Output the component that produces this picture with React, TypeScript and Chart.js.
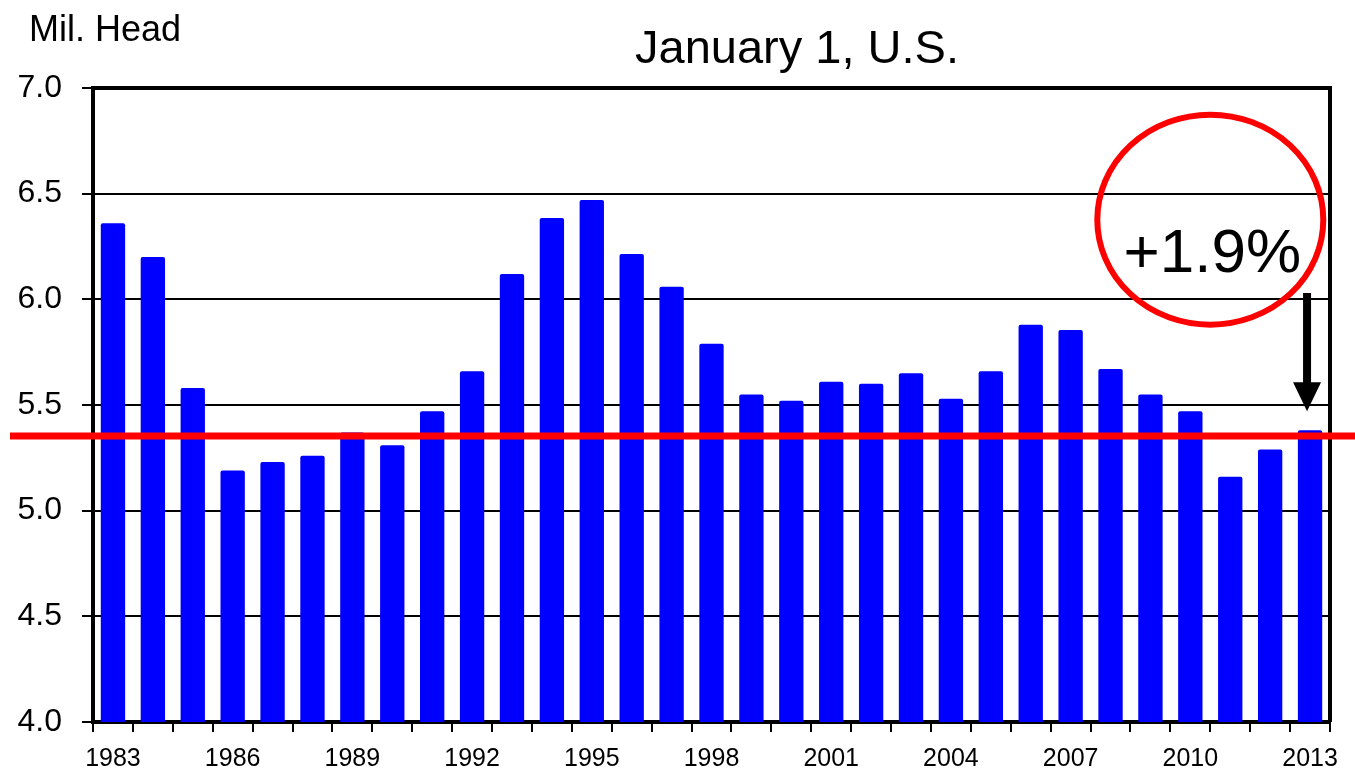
import React, { useEffect, useRef } from "react";
import { Chart, registerables } from "chart.js";

Chart.register(...registerables);

const years: string[] = [
  "1983", "1984", "1985", "1986", "1987", "1988", "1989", "1990", "1991", "1992",
  "1993", "1994", "1995", "1996", "1997", "1998", "1999", "2000", "2001", "2002",
  "2003", "2004", "2005", "2006", "2007", "2008", "2009", "2010", "2011", "2012", "2013",
];
const headMillions: number[] = [
  6.36, 6.20, 5.58, 5.19, 5.23, 5.26, 5.37, 5.31, 5.47, 5.66,
  6.12, 6.385, 6.47, 6.215, 6.06, 5.79, 5.55, 5.52, 5.61, 5.60,
  5.65, 5.53, 5.66, 5.88, 5.855, 5.67, 5.55, 5.47, 5.16, 5.29, 5.38,
];
const referenceLevel = 5.353;
const changeLabel = "+1.9%";
const titleText = "January 1, U.S.";
const unitText = "Mil. Head";

const FONT = "'Liberation Sans', Arial, sans-serif";

const overlayPlugin = {
  id: "overlay",
  afterDraw(chart: any) {
    const ctx = chart.ctx;
    const { chartArea } = chart;
    const xs = chart.scales.x;
    const ys = chart.scales.y;
    ctx.save();
    // frame (top & right)
    ctx.strokeStyle = "#000";
    ctx.lineWidth = 4;
    ctx.beginPath();
    ctx.moveTo(chartArea.left, chartArea.top);
    ctx.lineTo(chartArea.right, chartArea.top);
    ctx.lineTo(chartArea.right, chartArea.bottom);
    ctx.stroke();

    // red reference line
    const ry = ys.getPixelForValue(referenceLevel);
    ctx.strokeStyle = "#FF0000";
    ctx.lineWidth = 7;
    ctx.beginPath();
    ctx.moveTo(10, ry);
    ctx.lineTo(chart.width, ry);
    ctx.stroke();

    // red ellipse
    const cx = xs.getPixelForValue(27.5);
    const cy = ys.getPixelForValue(6.377);
    ctx.lineWidth = 6;
    ctx.beginPath();
    ctx.ellipse(cx, cy, 113, 105, 0, 0, Math.PI * 2);
    ctx.stroke();

    // text
    ctx.fillStyle = "#000";
    ctx.font = `62px ${FONT}`;
    ctx.textAlign = "center";
    ctx.textBaseline = "alphabetic";
    ctx.fillText(changeLabel, cx + 2, ys.getPixelForValue(6.13));

    // arrow
    const ax = xs.getPixelForValue(30) - 3;
    const aTop = ys.getPixelForValue(6.03);
    const aTip = ys.getPixelForValue(5.47);
    const headH = 29;
    ctx.strokeStyle = "#000";
    ctx.lineWidth = 8;
    ctx.beginPath();
    ctx.moveTo(ax, aTop);
    ctx.lineTo(ax, aTip - headH + 2);
    ctx.stroke();
    ctx.beginPath();
    ctx.moveTo(ax - 14, aTip - headH);
    ctx.lineTo(ax + 14, aTip - headH);
    ctx.lineTo(ax, aTip);
    ctx.closePath();
    ctx.fill();

    // titles
    ctx.font = `47px ${FONT}`;
    ctx.textAlign = "center";
    ctx.fillText(titleText, 797, 63);
    ctx.font = `36px ${FONT}`;
    ctx.textAlign = "left";
    ctx.fillText(unitText, 29, 41);
    ctx.restore();
  },
};

export default function App() {
  const ref = useRef<HTMLCanvasElement | null>(null);
  useEffect(() => {
    document.body.style.margin = "0";
    const canvas = ref.current;
    if (!canvas) return;
    const chart = new Chart(canvas, {
      type: "bar",
      data: {
        labels: years,
        datasets: [
          {
            data: headMillions,
            backgroundColor: "#0000FF",
            borderWidth: 0,
            borderRadius: 2,
            borderSkipped: "bottom",
            barPercentage: 0.61,
            categoryPercentage: 1,
          },
        ],
      },
      options: {
        animation: false,
        responsive: false,
        maintainAspectRatio: false,
        layout: { padding: { top: 88, left: 0, right: 25, bottom: 0 } },
        plugins: {
          legend: { display: false },
          tooltip: { enabled: false },
          title: { display: false },
        },
        scales: {
          x: {
            offset: true,
            grid: {
              offset: true,
              drawOnChartArea: false,
              drawTicks: true,
              tickLength: 10,
              color: "#000",
              lineWidth: 2,
            },
            border: { display: true, color: "#000", width: 4 },
            ticks: {
              autoSkip: false,
              maxRotation: 0,
              minRotation: 0,
              padding: 12,
              color: "#000",
              font: { family: FONT, size: 25 },
              callback: (_v: any, i: number) => (i % 3 === 0 ? years[i] : ""),
            },
            afterFit: (scale: any) => {
              scale.height = 48;
            },
          },
          y: {
            min: 4,
            max: 7,
            grid: {
              color: "#000",
              lineWidth: 2,
              tickLength: 11,
              drawTicks: true,
            },
            border: { display: true, color: "#000", width: 4 },
            ticks: {
              stepSize: 0.5,
              padding: 20,
              color: "#000",
              font: { family: FONT, size: 32 },
              callback: (v: any) => Number(v).toFixed(1),
            },
            afterFit: (scale: any) => {
              scale.width = 93;
            },
          },
        },
      },
      plugins: [overlayPlugin],
    });
    return () => chart.destroy();
  }, []);
  return <canvas ref={ref} width={1355} height={770} style={{ display: "block" }} />;
}
